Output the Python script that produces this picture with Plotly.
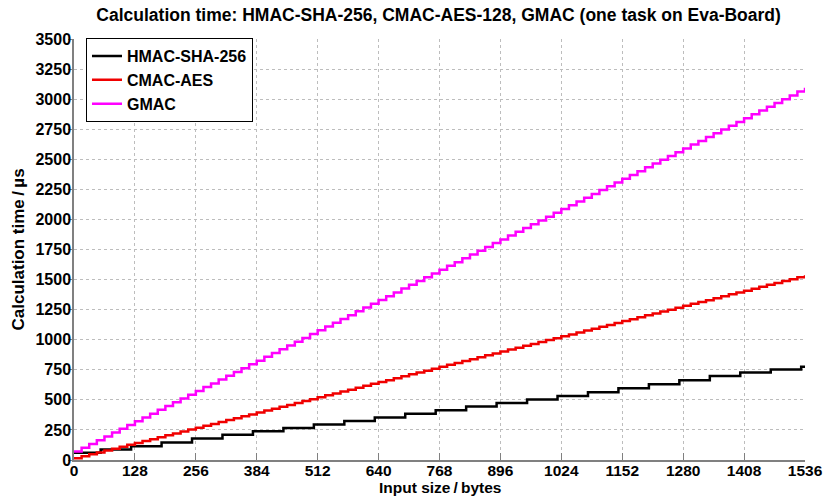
import plotly.graph_objects as go

# ---------------- data ----------------
# HMAC-SHA-256: one level per SHA block segment (step at 56 + 64*k bytes)
hmac_step_sizes = [0, 56, 120, 184, 248, 312, 376, 440, 504, 568, 632, 696, 760,
                   824, 888, 952, 1016, 1080, 1144, 1208, 1272, 1336, 1400, 1464, 1528, 1536]
hmac_times = [60, 88, 115, 145, 178, 210, 238, 266, 296, 325, 354, 384, 414,
              444, 474, 502, 533, 564, 596, 630, 664, 698, 728, 752, 776, 776]

# CMAC-AES and GMAC: one level per 16-byte block
block_sizes = list(range(0, 1537, 16))
cmac_times = [15, 31, 47, 63, 78, 94, 110, 126, 142, 158, 173, 189, 205, 221, 237, 253,
              268, 284, 300, 316, 332, 348, 363, 379, 395, 411, 427, 443, 458, 474, 490, 506,
              522, 538, 553, 569, 585, 601, 617, 633, 648, 664, 680, 696, 712, 728, 743, 759,
              775, 791, 807, 823, 838, 854, 870, 886, 902, 918, 933, 949, 965, 981, 997, 1013,
              1028, 1044, 1060, 1076, 1092, 1108, 1123, 1139, 1155, 1171, 1187, 1203, 1218, 1234,
              1250, 1266, 1282, 1298, 1313, 1329, 1345, 1361, 1377, 1393, 1408, 1424, 1440, 1456,
              1472, 1488, 1503, 1519, 1535]
gmac_times = [70, 102, 133, 165, 196, 228, 259, 291, 322, 354, 385, 417, 448, 480, 511, 543,
              574, 606, 637, 669, 700, 732, 763, 795, 826, 858, 889, 921, 952, 984, 1015, 1047,
              1078, 1110, 1141, 1173, 1204, 1236, 1267, 1299, 1330, 1362, 1393, 1425, 1456, 1488,
              1519, 1551, 1582, 1614, 1645, 1677, 1708, 1740, 1771, 1803, 1834, 1866, 1897, 1929,
              1960, 1992, 2023, 2055, 2086, 2118, 2149, 2181, 2212, 2244, 2275, 2307, 2338, 2370,
              2401, 2433, 2464, 2496, 2527, 2559, 2590, 2622, 2653, 2685, 2716, 2748, 2779, 2811,
              2842, 2874, 2905, 2937, 2968, 3000, 3031, 3063, 3094]

x_ticks = [0, 128, 256, 384, 512, 640, 768, 896, 1024, 1152, 1280, 1408, 1536]
y_ticks = [0, 250, 500, 750, 1000, 1250, 1500, 1750, 2000, 2250, 2500, 2750, 3000, 3250, 3500]

series_names = ["HMAC-SHA-256", "CMAC-AES", "GMAC"]
series_colors = ["#000000", "#f00000", "#ff00ff"]

FONT = "Liberation Sans, Arial, sans-serif"

fig = go.Figure()
fig.add_trace(go.Scatter(x=hmac_step_sizes, y=hmac_times, mode="lines", line_shape="hv",
                         name=series_names[0], line=dict(color=series_colors[0], width=2.5)))
fig.add_trace(go.Scatter(x=block_sizes, y=cmac_times, mode="lines", line_shape="hv",
                         name=series_names[1], line=dict(color=series_colors[1], width=2.5)))
fig.add_trace(go.Scatter(x=block_sizes, y=gmac_times, mode="lines", line_shape="hv",
                         name=series_names[2], line=dict(color=series_colors[2], width=2.5)))

fig.update_layout(
    width=826, height=502,
    margin=dict(l=74, r=21, t=39, b=42, autoexpand=False),
    paper_bgcolor="white", plot_bgcolor="white",
    font=dict(family=FONT, size=16, color="black", weight="bold"),
    title=dict(text="Calculation time: HMAC-SHA-256, CMAC-AES-128, GMAC (one task on Eva-Board)",
               x=0.531, xanchor="center", y=0.97, yanchor="middle",
               font=dict(family=FONT, size=17.5, color="black", weight="bold")),
    showlegend=True,
    legend=dict(x=0.0164, y=1.002, xanchor="left", yanchor="top",
                bgcolor="white", bordercolor="black", borderwidth=1,
                font=dict(family=FONT, size=16, color="black", weight="bold"),
                tracegroupgap=0, itemwidth=30),
    annotations=[
        dict(text="Input size\u2009/\u2009bytes", xref="paper", yref="paper",
             x=0.5, y=0, xanchor="center", yanchor="middle", yshift=-27,
             showarrow=False, font=dict(family=FONT, size=15.5, color="black", weight="bold")),
        dict(text="Calculation time\u2009/\u2009µs", xref="paper", yref="paper",
             x=0, y=0.5, xanchor="center", yanchor="middle", xshift=-56, textangle=-90,
             showarrow=False, font=dict(family=FONT, size=17, color="black", weight="bold")),
    ],
)

fig.update_xaxes(
    range=[0, 1536], tickvals=x_ticks, ticktext=[str(v) for v in x_ticks],
    showgrid=True, gridcolor="#bdbdbd", griddash="dot", gridwidth=1,
    showline=True, linecolor="#808080", linewidth=1.5,
    ticks="inside", ticklen=7, tickcolor="#808080",
    ticklabelstandoff=-4, tickfont=dict(family=FONT, size=15.5, color="black", weight="bold"),
    zeroline=False, automargin=False,
)
fig.update_yaxes(
    range=[0, 3500], tickvals=y_ticks, ticktext=[str(v) for v in y_ticks],
    showgrid=True, gridcolor="#bdbdbd", griddash="dot", gridwidth=1,
    showline=True, linecolor="#808080", linewidth=1.5,
    ticks="outside", ticklen=4, tickcolor="#808080",
    ticklabelstandoff=-6,
    zeroline=False, automargin=False,
)

fig.write_html("out.html", config={"displayModeBar": False},
               post_script="document.body.style.margin='0';")
